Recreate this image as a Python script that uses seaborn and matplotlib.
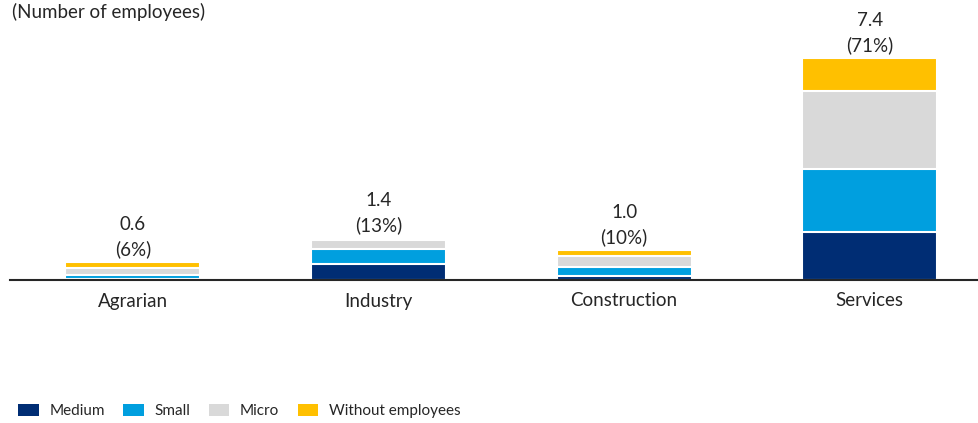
import matplotlib
matplotlib.use("Agg")
import matplotlib.pyplot as plt
import seaborn as sns
import pandas as pd
from matplotlib.patches import Patch

# Employment by sector and company size (millions of employees)
sectors = ["Agrarian", "Industry", "Construction", "Services"]
sizes = ["Medium", "Small", "Micro", "Without employees"]
medium = [0.04, 0.55, 0.12, 1.6]
small = [0.13, 0.50, 0.30, 2.1]
micro = [0.23, 0.30, 0.38, 2.6]
without_employees = [0.20, 0.05, 0.20, 1.1]
totals = [0.6, 1.4, 1.0, 7.4]
shares = ["6%", "13%", "10%", "71%"]

colors = {"Medium": "#002D74", "Small": "#009FDF",
          "Micro": "#D9D9D9", "Without employees": "#FFC000"}

sns.set_theme(style="white")
plt.rcParams["font.family"] = ["Lato", "DejaVu Sans"]
text_color = "#262626"

df = pd.DataFrame({"sector": sectors, "Medium": medium, "Small": small,
                   "Micro": micro, "Without employees": without_employees})
# cumulative heights so each layer sits on the one below
cum = df[sizes].cumsum(axis=1)

fig = plt.figure(figsize=(9.79, 4.23), dpi=100)
ax = fig.add_axes([10 / 979, (423 - 280) / 423, 1 - 10 / 979, 280 / 423])

for size in reversed(sizes):
    sns.barplot(x=df["sector"], y=cum[size], color=colors[size], width=0.55,
                edgecolor="white", linewidth=1.5, saturation=1, ax=ax,
                order=sectors)

for i, (tot, sh) in enumerate(zip(totals, shares)):
    ax.annotate(f"{tot:.1f}\n({sh})", xy=(i, tot), xytext=(0, 3),
                textcoords="offset points", ha="center", va="bottom",
                fontsize=13.5, color=text_color, linespacing=1.5)

ax.set_xlim(-0.5, 3.445)
ax.set_ylim(0, 9.35)
ax.set_xlabel("")
ax.set_ylabel("")
ax.set_yticks([])
ax.tick_params(axis="x", length=0, pad=9, labelsize=13.5, labelcolor=text_color)
for side in ["top", "left", "right"]:
    ax.spines[side].set_visible(False)
ax.spines["bottom"].set_color("#262626")
ax.spines["bottom"].set_linewidth(1.5)

fig.text(12 / 979, 1 - 12 / 423, "(Number of employees)", ha="left",
         va="center", fontsize=13.5, color=text_color)

handles = [Patch(facecolor=colors[s], edgecolor="none", label=s) for s in sizes]
fig.legend(handles=handles, loc="center left", bbox_to_anchor=(18 / 979, 1 - 411 / 423),
           ncol=4, frameon=False, fontsize=11, handlelength=1.35, handleheight=0.9,
           handletextpad=0.7, columnspacing=1.2, labelcolor=text_color,
           borderpad=0, borderaxespad=0)

fig.savefig("out.png", dpi=100)
